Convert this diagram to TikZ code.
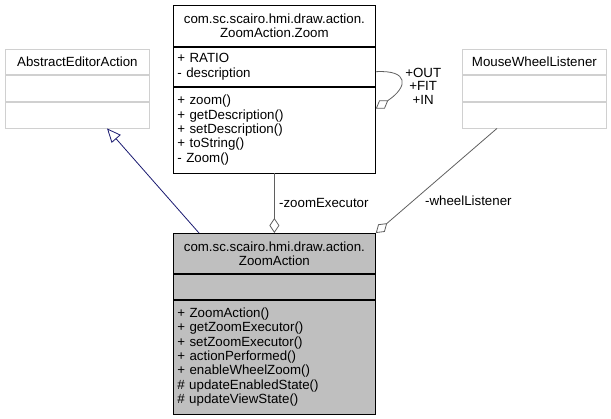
\documentclass[tikz,border=0pt]{standalone}
\usepackage{fontspec}
\setmainfont{Liberation Sans}
\usetikzlibrary{arrows.meta,positioning}
\definecolor{edge}{HTML}{D0D0D0}
\definecolor{link}{HTML}{5F5F5F}
\definecolor{inherit}{HTML}{191970}
\definecolor{shade}{HTML}{BFBFBF}

\begin{document}
\begin{tikzpicture}[x=1pt,y=-1pt,font=\fontsize{13.3}{14.3}\selectfont,line width=0.8pt,
  cls/.style={draw=black,inner xsep=4pt,inner ysep=0pt,text width=194pt,align=left},
  ext/.style={draw=edge,inner xsep=4pt,inner ysep=0pt,text width=136pt,align=center},
  agg/.style={draw=link,-{Diamond[open,length=15pt,width=10pt]}},
  inh/.style={draw=inherit,-{Triangle[open,length=14pt,width=12pt]}}]
\useasboundingbox (0,0) rectangle (611,419);
% parent and interface
\node[ext,minimum height=25,anchor=north west] (aeh) at (5,49) {AbstractEditorAction};
\node[ext,minimum height=26,below=0pt of aeh] (aea) {};
\node[ext,minimum height=26,below=0pt of aea] (aeo) {};
\node[ext,minimum height=25,anchor=north west] (mwh) at (462,49) {MouseWheelListener};
\node[ext,minimum height=26,below=0pt of mwh] (mwa) {};
\node[ext,minimum height=26,below=0pt of mwa] (mwo) {};
% nested enum
\node[cls,align=center,minimum height=41,anchor=north west] (zh) at (173,5) {com.sc.scairo.hmi.draw.action.\\ZoomAction.Zoom};
\node[cls,minimum height=39,below=0pt of zh] (za) {+ RATIO\\- description};
\node[cls,minimum height=86,below=0pt of za] (zo) {+ zoom()\\+ getDescription()\\+ setDescription()\\+ toString()\\- Zoom()};
% the class itself
\node[cls,fill=shade,align=center,minimum height=40,anchor=north west] (zah) at (173,233) {com.sc.scairo.hmi.draw.action.\\ZoomAction};
\node[cls,fill=shade,minimum height=25,below=0pt of zah] (zaa) {};
\node[cls,fill=shade,minimum height=114,below=0pt of zaa] (zao) {+ ZoomAction()\\+ getZoomExecutor()\\+ setZoomExecutor()\\+ actionPerformed()\\+ enableWheelZoom()\\\# updateEnabledState()\\\# updateViewState()};
% relations
\draw[inh] ([xshift=26pt]zah.north west) -- ([xshift=102pt]aeo.south west);
\draw[agg] (zo.south) -- node[right=1pt]{-zoomExecutor} (zah.north);
\draw[agg] ([xshift=35pt]mwo.south west) -- node[right=8pt,pos=0.69]{-wheelListener} (zah.north east);
\draw[agg] ([yshift=-5pt]za.east) .. controls +(33,-2) and +(33,-22) .. node[right=1pt,yshift=-5pt,pos=0.5,align=center,font=\fontsize{13.3}{13.5}\selectfont]{+OUT\\+FIT\\+IN} ([yshift=-22pt]zo.north east);
\end{tikzpicture}
\end{document}
